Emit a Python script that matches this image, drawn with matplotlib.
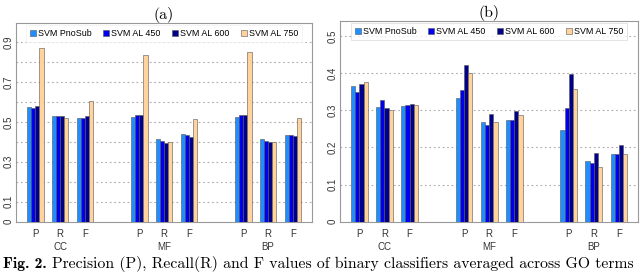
import matplotlib
matplotlib.use("Agg")
import matplotlib.pyplot as plt
import numpy as np

series = ["SVM PnoSub", "SVM AL 450", "SVM AL 600", "SVM AL 750"]
colors = ["#1f8fff", "#0000ee", "#00008b", "#ffd39b"]
metrics = ["P", "R", "F"]
ontologies = ["CC", "MF", "BP"]

# panel (a): rows = CC P,R,F, MF P,R,F, BP P,R,F ; columns = series
vals_a = [
    [0.575, 0.570, 0.580, 0.870],
    [0.527, 0.530, 0.527, 0.520],
    [0.520, 0.520, 0.527, 0.605],
    [0.523, 0.533, 0.532, 0.837],
    [0.415, 0.403, 0.392, 0.397],
    [0.437, 0.432, 0.424, 0.512],
    [0.522, 0.532, 0.532, 0.852],
    [0.412, 0.404, 0.400, 0.400],
    [0.432, 0.432, 0.428, 0.517],
]
# panel (b)
vals_b = [
    [0.364, 0.348, 0.370, 0.376],
    [0.308, 0.327, 0.306, 0.300],
    [0.312, 0.313, 0.316, 0.314],
    [0.332, 0.354, 0.422, 0.401],
    [0.268, 0.259, 0.290, 0.269],
    [0.274, 0.274, 0.299, 0.288],
    [0.248, 0.307, 0.398, 0.358],
    [0.163, 0.157, 0.185, 0.148],
    [0.181, 0.183, 0.205, 0.183],
]
yticks_a = [0, 0.1, 0.3, 0.5, 0.7, 0.9]
ticklabels_a = ["0", "0.1", "0.3", "0.5", "0.7", "0.9"]
yticks_b = [0, 0.1, 0.2, 0.3, 0.4, 0.5]
ticklabels_b = ["0", "0.1", "0.2", "0.3", "0.4", "0.5"]

fig = plt.figure(figsize=(6.4, 2.72), dpi=100)

cat_gap = 4.17
centers = np.array([i * cat_gap + j for i in range(3) for j in range(3)])
bw = 0.167

def draw(ax, vals, ylim, yticks, ylabels, grid_step, title, legend_edge):
    vals = np.array(vals)
    for k in range(4):
        x = centers + (k - 1.5) * bw
        ax.bar(x, vals[:, k], width=bw, color=colors[k], edgecolor="#555555",
               linewidth=0.4, label=series[k], zorder=3)
    ax.set_ylim(*ylim)
    ax.set_xlim(-0.77, 11.1)
    for g in np.arange(grid_step, ylim[1], grid_step):
        ax.axhline(g, color="#aaaaaa", linestyle=(0, (1.5, 2.5)), linewidth=0.8, zorder=1)
    ax.set_yticks(yticks)
    ax.set_yticklabels(ylabels, rotation=90, va="center", fontsize=7,
                       family="Liberation Sans", color="#333333")
    ax.tick_params(axis="y", length=0, pad=2)
    ax.set_xticks(centers)
    ax.set_xticklabels(metrics * 3, fontsize=7, family="Liberation Sans", color="#333333")
    ax.tick_params(axis="x", length=0, pad=5)
    for i, name in enumerate(ontologies):
        ax.text(i * cat_gap + 1, -0.125 * ylim[1], name, ha="center", va="center",
                fontsize=7, family="Liberation Sans", color="#333333",
                transform=ax.transData, clip_on=False)
    for s in ax.spines.values():
        s.set_color("#999999")
        s.set_linewidth(0.8)
    leg = ax.legend(loc="upper center", bbox_to_anchor=(0.5, 1.0), ncol=4,
                    prop={"family": "Liberation Sans", "size": 6.4},
                    frameon=True, fancybox=False, edgecolor=legend_edge,
                    handlelength=0.7, handleheight=0.7, handletextpad=0.2,
                    columnspacing=1.3, borderpad=0.45, borderaxespad=0.2)
    leg.get_frame().set_linewidth(0.6)
    leg.set_zorder(5)
    ax.set_title(title, fontsize=11.5, family="cmr10", pad=3)

ax_a = fig.add_axes([0.025, 0.185, 0.4625, 0.7305])
draw(ax_a, vals_a, (0, 0.995), yticks_a, ticklabels_a, 0.1, "(a)", "#f0f0f0")
ax_b = fig.add_axes([0.53125, 0.185, 0.4656, 0.7378])
draw(ax_b, vals_b, (0, 0.54), yticks_b, ticklabels_b, 0.1, "(b)", "#d8d8d8")

cap_y = 4.0 / 272
t1 = fig.text(0.004, cap_y, "Fig. 2.", family="cmb10", fontsize=11.3, va="baseline", ha="left")
fig.canvas.draw()
bb = t1.get_window_extent()
x2 = (bb.x1 + 6) / fig.bbox.width
fig.text(x2, cap_y, "Precision (P), Recall(R) and F values of binary classifiers averaged across GO terms",
         family="cmr10", fontsize=11.3, va="baseline", ha="left")

fig.savefig("out.png", dpi=100)
